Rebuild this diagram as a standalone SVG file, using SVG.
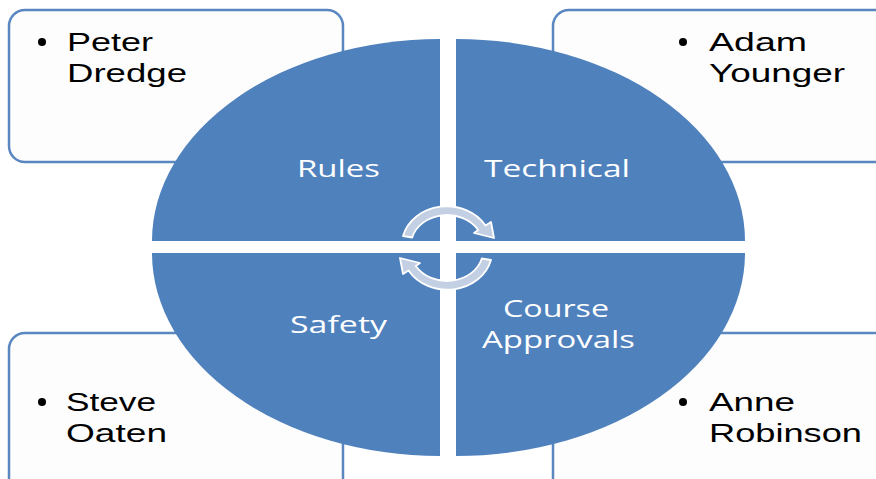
<svg xmlns="http://www.w3.org/2000/svg" width="876" height="479" viewBox="0 0 876 479">
<style>
.box{fill:#FDFDFD;stroke:#5A87C0;stroke-width:2.5}
.q{fill:#4F81BD}
.name{font-family:"Liberation Sans","Open Sans",sans-serif;font-size:26px;fill:#000}
.lbl{font-family:"Open Sans","Liberation Sans",sans-serif;font-size:24px;fill:#FFFFFF}
.bul{fill:#000}
.arr{fill:#C3CFE3;stroke:#FFFFFF;stroke-width:1.8;stroke-linejoin:round}
</style>
<rect width="876" height="479" fill="#FFFFFF"/>
<g id="box-tl"><rect class="box" x="9" y="10" width="334" height="152" rx="16"/>
<circle class="bul" cx="42" cy="42" r="4"/>
<text class="name" x="67" y="51" textLength="86" lengthAdjust="spacingAndGlyphs">Peter</text>
<text class="name" x="67" y="82" textLength="120" lengthAdjust="spacingAndGlyphs">Dredge</text></g>
<g id="box-tr"><rect class="box" x="553" y="10" width="340" height="152" rx="16"/>
<circle class="bul" cx="683" cy="42" r="4"/>
<text class="name" x="709" y="51" textLength="98" lengthAdjust="spacingAndGlyphs">Adam</text>
<text class="name" x="709" y="82" textLength="136" lengthAdjust="spacingAndGlyphs">Younger</text></g>
<g id="box-bl"><rect class="box" x="9" y="333" width="334" height="170" rx="16"/>
<circle class="bul" cx="42" cy="402" r="4"/>
<text class="name" x="66" y="411" textLength="90" lengthAdjust="spacingAndGlyphs">Steve</text>
<text class="name" x="66" y="442" textLength="101" lengthAdjust="spacingAndGlyphs">Oaten</text></g>
<g id="box-br"><rect class="box" x="553" y="333" width="340" height="170" rx="16"/>
<circle class="bul" cx="683" cy="402" r="4"/>
<text class="name" x="709" y="411" textLength="86" lengthAdjust="spacingAndGlyphs">Anne</text>
<text class="name" x="709" y="442" textLength="153" lengthAdjust="spacingAndGlyphs">Robinson</text></g>
<g id="q-rules"><path class="q" d="M440 241 L152 241 A288 202 0 0 1 440 39 Z"/>
<text class="lbl" x="297" y="177" textLength="83" lengthAdjust="spacingAndGlyphs">Rules</text></g>
<g id="q-technical"><path class="q" d="M456 241 L456 39 A289 202 0 0 1 745 241 Z"/>
<text class="lbl" x="484" y="177" textLength="146" lengthAdjust="spacingAndGlyphs">Technical</text></g>
<g id="q-safety"><path class="q" d="M440 253 L440 456 A288 203 0 0 1 152 253 Z"/>
<text class="lbl" x="290" y="333" textLength="97" lengthAdjust="spacingAndGlyphs">Safety</text></g>
<g id="q-course"><path class="q" d="M456 253 L745 253 A289 203 0 0 1 456 456 Z"/>
<text class="lbl" x="503" y="317" textLength="106" lengthAdjust="spacingAndGlyphs">Course</text>
<text class="lbl" x="482" y="348" textLength="153" lengthAdjust="spacingAndGlyphs">Approvals</text></g>
<g id="connectors">
<path class="arr" d="M403 236 A45 39 0 0 1 485.5 225.5 L491 222 L494 238 L474 233 L478.2 230 A36 30 0 0 0 412.2 237.5 Z"/>
<path class="arr" transform="rotate(180 447 248)" d="M403 236 A45 39 0 0 1 485.5 225.5 L491 222 L494 238 L474 233 L478.2 230 A36 30 0 0 0 412.2 237.5 Z"/>
</g>
</svg>
